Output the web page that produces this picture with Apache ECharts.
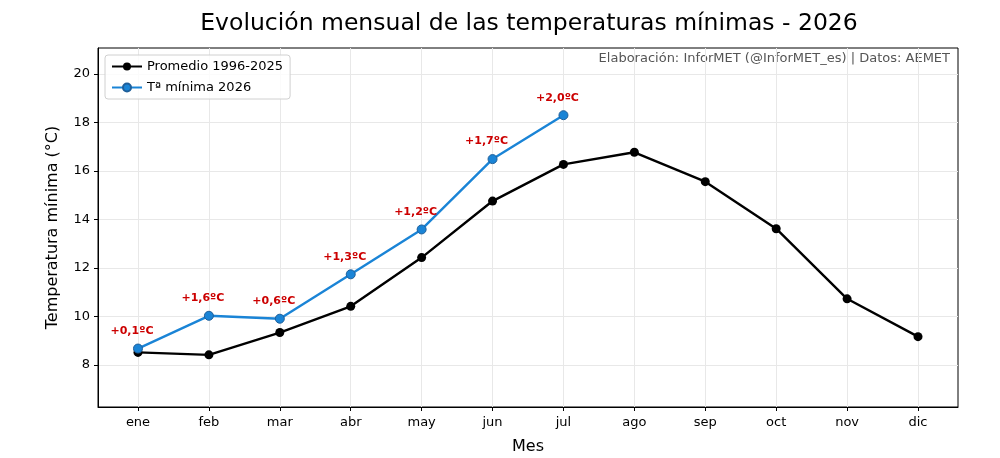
<!DOCTYPE html>
<html>
<head>
<meta charset="utf-8">
<script src="https://cdn.jsdelivr.net/npm/echarts@6/dist/echarts.min.js"></script>
<style>
  html, body { margin: 0; padding: 0; background: #fff; }
  #chart { width: 1000px; height: 458px; }
</style>
</head>
<body>
<div id="chart"></div>
<script>
// datos
var meses = ['ene', 'feb', 'mar', 'abr', 'may', 'jun', 'jul', 'ago', 'sep', 'oct', 'nov', 'dic'];
var promedio = [8.52, 8.42, 9.34, 10.42, 12.43, 14.76, 16.27, 16.77, 15.56, 13.62, 10.73, 9.17];
var minima2026 = [8.68, 10.03, 9.91, 11.74, 13.59, 16.49, 18.30];
var anomalias = ['+0,1ºC', '+1,6ºC', '+0,6ºC', '+1,3ºC', '+1,2ºC', '+1,7ºC', '+2,0ºC'];
var yTicks = [8, 10, 12, 14, 16, 18, 20];

var FONT = 'DejaVu Sans';

function pares(arr) {
  return arr.map(function (v, i) { return [i, v]; });
}
var xIdx = meses.map(function (m, i) { return i; });

var chart = echarts.init(document.getElementById('chart'));

var option = {
  backgroundColor: '#fff',
  animation: false,
  textStyle: { fontFamily: FONT },
  title: {
    text: 'Evolución mensual de las temperaturas mínimas - 2026',
    left: 524,
    textAlign: 'center',
    top: 7,
    textStyle: { fontFamily: FONT, fontSize: 23.5, fontWeight: 'normal', color: '#000' }
  },
  grid: {
    left: 98,
    right: 42,
    top: 48,
    bottom: 51,
    outerBoundsMode: 'none',
    containLabel: false,
    show: true,
    borderColor: '#000',
    borderWidth: 1
  },
  legend: {
    left: 105,
    top: 55,
    orient: 'vertical',
    itemGap: 8,
    itemWidth: 30,
    itemHeight: 10,
    padding: [5, 7, 5, 6],
    borderColor: '#d0d0d0',
    borderWidth: 1,
    borderRadius: 3,
    backgroundColor: 'rgba(255,255,255,0.8)',
    textStyle: { fontFamily: FONT, fontSize: 13, color: '#000' },
    data: ['Promedio 1996-2025', 'Tª mínima 2026']
  },
  xAxis: {
    type: 'value',
    min: -0.564,
    max: 11.564,
    name: 'Mes',
    nameLocation: 'middle',
    nameGap: 32,
    nameTextStyle: { fontFamily: FONT, fontSize: 16, color: '#000' },
    axisLine: { onZero: false, lineStyle: { color: '#000' } },
    axisTick: { customValues: xIdx, length: 4, lineStyle: { color: '#000' } },
    axisLabel: {
      customValues: xIdx,
      margin: 9,
      fontFamily: FONT,
      fontSize: 13,
      color: '#000',
      formatter: function (v) { return meses[Math.round(v)]; }
    },
    splitLine: { show: true, lineStyle: { color: '#e8e8e8', width: 1 } }
  },
  yAxis: {
    type: 'value',
    min: 6.27,
    max: 21.07,
    name: 'Temperatura mínima (°C)',
    nameLocation: 'middle',
    nameGap: 37,
    nameTextStyle: { fontFamily: FONT, fontSize: 16, color: '#000' },
    axisLine: { show: true, onZero: false, lineStyle: { color: '#000' } },
    axisTick: { show: true, customValues: yTicks, length: 4, lineStyle: { color: '#000' } },
    axisLabel: { customValues: yTicks, margin: 8, fontFamily: FONT, fontSize: 13, color: '#000' },
    splitLine: { show: true, lineStyle: { color: '#e8e8e8', width: 1 } }
  },
  graphic: [{
    type: 'text',
    right: 50,
    top: 52,
    style: {
      text: 'Elaboración: InforMET (@InforMET_es) | Datos: AEMET',
      font: '13px "DejaVu Sans"',
      fill: '#555'
    }
  }],
  series: [
    {
      name: 'Promedio 1996-2025',
      type: 'line',
      data: pares(promedio),
      symbol: 'circle',
      symbolSize: 9,
      lineStyle: { color: '#000', width: 2.4 },
      itemStyle: { color: '#000' },
      z: 2
    },
    {
      name: 'Tª mínima 2026',
      type: 'line',
      data: pares(minima2026),
      symbol: 'circle',
      symbolSize: 9,
      lineStyle: { color: '#1a84d6', width: 2.4 },
      itemStyle: { color: '#1a84d6', borderColor: '#1f5f9a', borderWidth: 1 },
      label: {
        show: true,
        position: 'top',
        distance: 7,
        offset: [-6, 0],
        fontFamily: FONT,
        fontSize: 11,
        fontWeight: 'bold',
        color: '#cc0000',
        formatter: function (p) { return anomalias[p.dataIndex]; }
      },
      z: 3
    }
  ]
};

chart.setOption(option);
</script>
</body>
</html>
